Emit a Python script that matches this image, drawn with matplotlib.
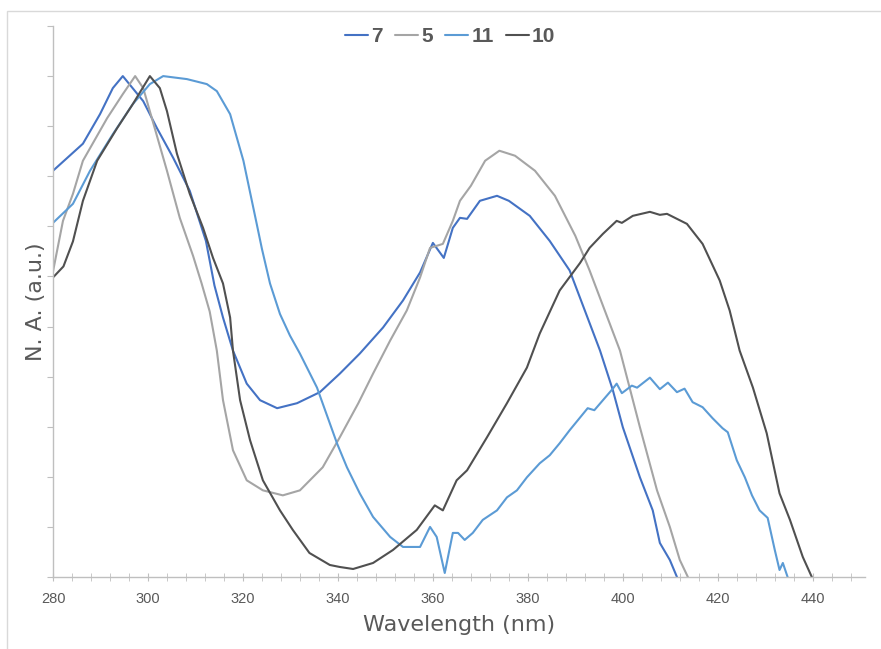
import numpy as np
import matplotlib.pyplot as plt
from matplotlib.patches import Rectangle
from matplotlib.ticker import MultipleLocator

# Normalised absorption spectra
wl_7 = [280, 286.3, 289.9, 292.6, 294.7, 299, 301.9, 305.3, 308.8, 312.2,
        314, 315.8, 317.9, 320.8, 323.6, 327.2, 331.4, 336.2, 340.4, 344.6,
        349.5, 353.7, 357.3, 360, 362.3, 364.2, 365.7, 367.2, 369.9, 373.5,
        376, 380.4, 384.6, 388.8, 392, 395.2, 397.9, 400, 403.6, 406.3,
        407.8, 409.9, 411.4]
na_7 = [0.811, 0.865, 0.924, 0.976, 1.0, 0.950, 0.896, 0.837, 0.771, 0.671,
        0.582, 0.518, 0.452, 0.386, 0.353, 0.337, 0.347, 0.369, 0.406, 0.446,
        0.498, 0.552, 0.608, 0.667, 0.637, 0.697, 0.717, 0.715, 0.751, 0.761,
        0.751, 0.721, 0.671, 0.612, 0.532, 0.452, 0.373, 0.299, 0.199, 0.133,
        0.068, 0.034, 0.0]

wl_5 = [280, 282.1, 284.2, 286.3, 291.4, 294.7, 297.3, 299, 301, 304,
        306.7, 309.5, 311.3, 313, 314.5, 315.8, 317.9, 320.8, 324.2, 328.4,
        332, 336.8, 340.4, 344.3, 347.4, 351, 354.5, 357.3, 359.4, 362.1,
        364.2, 365.7, 368, 371, 374, 377.3, 381.5, 385.7, 390, 393,
        396.2, 399.4, 403.6, 407.2, 409.9, 412, 413.7]
na_5 = [0.610, 0.711, 0.765, 0.831, 0.916, 0.964, 1.0, 0.976, 0.910, 0.811,
        0.717, 0.641, 0.586, 0.530, 0.452, 0.353, 0.253, 0.193, 0.173, 0.163,
        0.173, 0.219, 0.279, 0.347, 0.406, 0.472, 0.532, 0.598, 0.657, 0.665,
        0.711, 0.751, 0.781, 0.831, 0.851, 0.841, 0.811, 0.761, 0.681, 0.612,
        0.532, 0.452, 0.299, 0.173, 0.100, 0.034, 0.0]

wl_11 = [280, 284.2, 287.8, 292.6, 296.8, 300.4, 303.2, 308.2, 312.4, 314.5,
         317.3, 320.1, 322.9, 324, 325.7, 327.8, 329.9, 332, 335.6, 339.8,
         341.9, 344.6, 347.4, 351, 353.7, 357.3, 359.4, 360.8, 362.5, 364.2,
         365.3, 366.7, 368.4, 370.5, 373.5, 375.6, 377.7, 379.8, 382.5, 384.6,
         386.7, 388.8, 392.6, 394, 397.9, 398.7, 399.8, 401.9, 403, 405.7,
         407.8, 409.5, 411.4, 413, 414.7, 416.8, 418.9, 421, 422.1, 424,
         425.7, 427.2, 428.8, 430.5, 432, 433, 433.7, 434.7]
na_11 = [0.707, 0.745, 0.811, 0.884, 0.944, 0.984, 1.0, 0.994, 0.984, 0.970,
         0.924, 0.831, 0.705, 0.655, 0.586, 0.525, 0.482, 0.446, 0.378, 0.267,
         0.219, 0.167, 0.120, 0.080, 0.060, 0.060, 0.100, 0.080, 0.008, 0.088,
         0.088, 0.074, 0.088, 0.114, 0.133, 0.159, 0.173, 0.199, 0.227, 0.243,
         0.267, 0.293, 0.337, 0.333, 0.376, 0.386, 0.367, 0.382, 0.378, 0.398,
         0.375, 0.388, 0.369, 0.376, 0.349, 0.339, 0.317, 0.297, 0.289, 0.233,
         0.199, 0.163, 0.133, 0.118, 0.054, 0.014, 0.028, 0.0]

wl_10 = [280, 282.2, 284.2, 286.3, 289.3, 293.5, 296.8, 300.4, 302.5, 304,
         306.1, 308.8, 311.6, 313.7, 315.8, 317.3, 317.9, 319.4, 321.5, 324.2,
         327.8, 330.5, 334, 338.3, 340.4, 343.2, 347.4, 351.6, 356.6, 360.4,
         362.1, 365, 367.2, 371.4, 375.6, 379.8, 382.5, 386.7, 391, 393,
         395.8, 398.7, 399.8, 402.1, 405.7, 407.8, 409.3, 413.5, 416.8, 420.4,
         422.5, 424.6, 427.4, 430.3, 433, 435.2, 437.9, 439.8]
na_10 = [0.598, 0.620, 0.670, 0.751, 0.831, 0.896, 0.944, 1.0, 0.976, 0.930,
         0.845, 0.765, 0.697, 0.637, 0.586, 0.518, 0.452, 0.353, 0.273, 0.193,
         0.133, 0.094, 0.048, 0.024, 0.020, 0.016, 0.028, 0.054, 0.094, 0.143,
         0.133, 0.193, 0.213, 0.279, 0.347, 0.418, 0.486, 0.572, 0.627, 0.657,
         0.685, 0.711, 0.707, 0.721, 0.729, 0.723, 0.725, 0.705, 0.665, 0.592,
         0.532, 0.452, 0.378, 0.287, 0.167, 0.114, 0.040, 0.0]

series = [
    ('7', wl_7, na_7, '#4472C4'),
    ('5', wl_5, na_5, '#A5A5A5'),
    ('11', wl_11, na_11, '#5B9BD5'),
    ('10', wl_10, na_10, '#505050'),
]

fig = plt.figure(figsize=(8.81, 6.49), dpi=100)
ax = fig.add_axes([53 / 881, 72 / 649, 812 / 881, 551 / 649])

# light chart-area frame like the Excel export
fig.patches.append(Rectangle((7 / 881, -0.1), 1.2, (649 - 11) / 649 + 0.1,
                             transform=fig.transFigure, fill=False,
                             edgecolor='#D9D9D9', linewidth=1.0))

for name, x, y, c in series:
    ax.plot(x, y, color=c, lw=1.5, label=name,
            solid_joinstyle='round', solid_capstyle='round')

ax.set_xlim(280, 451)
ax.set_ylim(0, 1.1)
ax.xaxis.set_major_locator(MultipleLocator(20))
ax.xaxis.set_minor_locator(MultipleLocator(4))
ax.yaxis.set_major_locator(MultipleLocator(0.1))

for s in ['top', 'right']:
    ax.spines[s].set_visible(False)
for s in ['left', 'bottom']:
    ax.spines[s].set_color('#BFBFBF')
    ax.spines[s].set_linewidth(1.0)

ax.tick_params(axis='x', which='both', direction='inout', length=6,
               color='#BFBFBF', labelsize=10, labelcolor='#595959', pad=8)
ax.tick_params(axis='y', which='major', direction='out', length=4,
               color='#BFBFBF', labelleft=False)
for lbl in ax.get_xticklabels():
    lbl.set_family(['Liberation Sans', 'DejaVu Sans'])
    lbl.set_fontsize(10.5)

ax.set_xlabel('Wavelength (nm)', fontsize=16, color='#595959', labelpad=6)
ax.set_ylabel('N. A. (a.u.)', fontsize=16, color='#595959', labelpad=1)

leg = fig.legend(loc='center', bbox_to_anchor=(0.511, 0.943), ncol=4,
                 frameon=False, handlelength=1.1, handletextpad=0.15,
                 columnspacing=0.6,
                 prop={'size': 15, 'weight': 'bold',
                       'family': ['Liberation Sans', 'DejaVu Sans']})
for t in leg.get_texts():
    t.set_color('#595959')

fig.savefig('out.png', dpi=100, facecolor='white')
